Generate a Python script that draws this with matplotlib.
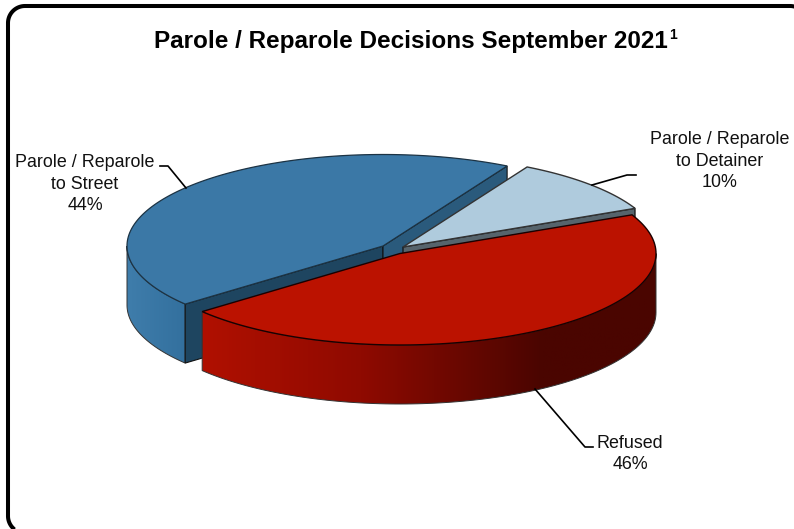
# Parole / Reparole Entscheidungen - 3D Torte nachgebaut
import numpy as np
import matplotlib
matplotlib.use("Agg")
import matplotlib.pyplot as plt
from matplotlib.patches import Polygon
from matplotlib.colors import LinearSegmentedColormap

# Daten
categories = ["Parole / Reparole\nto Street", "Refused", "Parole / Reparole\nto Detainer"]
shares = [44, 46, 10]
top_colors = ["#3b78a6", "#bb1200", "#afcbdd"]
cut_colors = ["#1e4560", "#7a0c00", "#56646c"]
title = "Parole / Reparole Decisions September 2021"

plt.rcParams['font.family'] = ['Liberation Sans', 'DejaVu Sans']

# Geometrie der Torte in Pixeln
RX = 256
RY = 91.5
DEPTH = 59
START = 61.0
centers = [(383, 246), (400, 253.5), (403, 247)]


def rim(cx, cy, t0, t1, n=120):
    t = np.radians(np.linspace(t0, t1, n))
    return np.column_stack([cx + RX * np.cos(t), cy - RY * np.sin(t)])


def wall_path(cx, cy, t0, t1):
    upper = rim(cx, cy, t0, t1)
    lower = upper[::-1] + [0, DEPTH]
    return np.vstack([upper, lower])


def gradient_wall(ax, pts, colors, stops=None, zorder=2):
    x0, x1 = pts[:, 0].min(), pts[:, 0].max()
    y0, y1 = pts[:, 1].min(), pts[:, 1].max()
    if stops is None:
        cm = LinearSegmentedColormap.from_list("w", colors)
    else:
        cm = LinearSegmentedColormap.from_list("w", list(zip(stops, colors)))
    grad = np.linspace(0, 1, 256).reshape(1, -1)
    im = ax.imshow(grad, cmap=cm, extent=[x0, x1, y1, y0], aspect='auto', zorder=zorder)
    clip = Polygon(pts, closed=True, transform=ax.transData, fill=False, edgecolor='none')
    ax.add_patch(clip)
    im.set_clip_path(clip)
    ax.add_patch(Polygon(pts, closed=True, fill=False, edgecolor='#333333', lw=0.7, zorder=zorder))


def label(ax, x, y, text, step=21.6):
    # jede Zeile einzeln, Grundlinie wie im Original
    for i, line in enumerate(text.split("\n")):
        ax.text(x, y + i * step, line, ha='center', va='baseline', fontsize=12.85,
                color='#111111', zorder=10)


def corner(cx, cy, r, t0, t1, n=30):
    t = np.radians(np.linspace(t0, t1, n))
    return np.column_stack([cx + r * np.cos(t), cy + r * np.sin(t)])


fig = plt.figure(figsize=(7.94, 5.29), dpi=100)
ax = fig.add_axes([0, 0, 1, 1])

# Rahmen, rechts und unten ausserhalb vom Bild
R = 17
frame = np.vstack([corner(25, 516, R, 135, 180),
                   corner(25, 23, R, 180, 270),
                   corner(790, 23, R, 270, 315)])
ax.plot(frame[:, 0], frame[:, 1], color='black', lw=2.9, zorder=1)

# Winkel aus den Anteilen
spans = [s / sum(shares) * 360 for s in shares]
a_blue = (START, START + spans[0])
a_red = (a_blue[1], a_blue[1] + spans[1])
a_det = (a_red[1], a_red[1] + spans[2])

# Blau: Aussenwand, Schnittflaechen, Deckel
cx, cy = centers[0]
gradient_wall(ax, wall_path(cx, cy, 180, a_blue[1]), ["#3f7dab", "#33709e"])
end_b = rim(cx, cy, a_blue[1], a_blue[1], 1)[0]
start_b = rim(cx, cy, a_blue[0], a_blue[0], 1)[0]
ax.add_patch(Polygon([(cx, cy), end_b, end_b + [0, DEPTH], (cx, cy + DEPTH)], closed=True,
                     fc=cut_colors[0], ec='#111111', lw=0.8, zorder=3))
ax.add_patch(Polygon([(cx, cy), start_b, start_b + [0, DEPTH], (cx, cy + DEPTH)], closed=True,
                     fc="#2a5a7c", ec='#111111', lw=0.8, zorder=3))
ax.add_patch(Polygon(np.vstack([[(cx, cy)], rim(cx, cy, *a_blue)]), closed=True,
                     fc=top_colors[0], ec='#1c3344', lw=0.9, zorder=4))

# Detainer
cx, cy = centers[2]
det_t0 = a_det[0] - 360
det_t1 = a_det[1] - 360
low_d = rim(cx, cy, det_t0, det_t0, 1)[0]
ax.add_patch(Polygon([(cx, cy), low_d, low_d + [0, 9], (cx, cy + 9)], closed=True,
                     fc=cut_colors[2], ec='#111111', lw=0.9, zorder=5))
ax.add_patch(Polygon(np.vstack([[(cx, cy)], rim(cx, cy, det_t0, det_t1)]), closed=True,
                     fc=top_colors[2], ec='#333333', lw=1.0, zorder=6))

# Rot: Wand mit Verlauf, Deckel
cx, cy = centers[1]
gradient_wall(ax, wall_path(cx, cy, a_red[0], 360), ["#b01000", "#8f0a00", "#4a0500", "#4a0500"],
              stops=[0, 0.35, 0.75, 1], zorder=7)
ax.add_patch(Polygon(np.vstack([[(cx, cy)], rim(cx, cy, *a_red)]), closed=True,
                     fc=top_colors[1], ec='#1a0000', lw=1.0, zorder=8))

# Titel
ax.text(410.5, 48, title, ha='center', va='baseline', fontsize=17.5, fontweight='bold', color='black', zorder=10)
ax.text(669, 39, "1", ha='left', va='baseline', fontsize=10, fontweight='bold', color='black', zorder=10)

# Beschriftungen mit Fuehrungslinien
label_text = [f"{c}\n{s}%" for c, s in zip(categories, shares)]
label(ax, 85, 167, label_text[0])
label(ax, 630, 447.5, label_text[1])
label(ax, 719.5, 144, label_text[2])

ax.plot([160, 168, 186], [166, 166, 188], color='black', lw=1.2, zorder=9)
ax.plot([535, 585, 593], [389, 447, 447], color='black', lw=1.2, zorder=9)
ax.plot([592, 627, 636], [185, 175, 175], color='black', lw=1.2, zorder=9)

ax.set_xlim(0, 794)
ax.set_ylim(529, 0)
ax.axis('off')

fig.savefig("out.png", dpi=100)
